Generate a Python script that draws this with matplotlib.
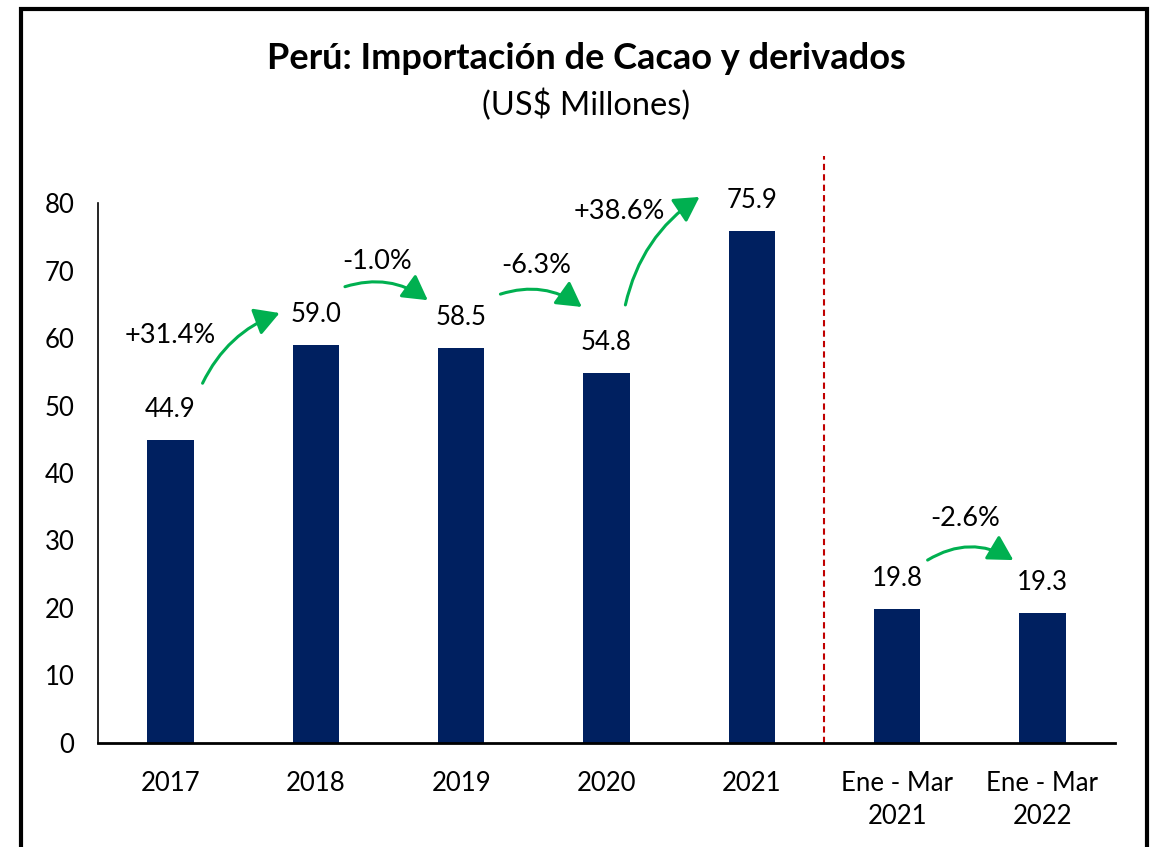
import matplotlib.pyplot as plt
from matplotlib.patches import FancyArrowPatch, Rectangle

plt.rcParams["font.family"] = ["Lato", "DejaVu Sans"]

categories = ["2017", "2018", "2019", "2020", "2021", "Ene - Mar\n2021", "Ene - Mar\n2022"]
values = [44.9, 59.0, 58.5, 54.8, 75.9, 19.8, 19.3]

# growth labels: (text, x, y) and arrows (x0, y0, x1, y1, rad)
growth_labels = ["+31.4%", "-1.0%", "-6.3%", "+38.6%", "-2.6%"]
growth_label_pos = [(0.0, 60.3), (1.42, 71.4), (2.52, 70.8), (3.09, 78.7), (5.47, 33.3)]
growth_arrows = [
    (0.22, 53.3, 0.75, 63.7, -0.2),
    (1.20, 67.6, 1.77, 65.6, -0.25),
    (2.27, 66.5, 2.83, 64.6, -0.25),
    (3.13, 64.9, 3.64, 80.9, -0.2),
    (5.21, 27.1, 5.80, 27.1, -0.3),
]

bar_color = "#002060"
green = "#00B050"

fig = plt.figure(figsize=(11.55, 8.47), dpi=100)
ax = fig.add_axes([0.0848, 0.1228, 0.8806, 0.6933])

x = range(len(categories))
ax.bar(x, values, width=0.32, color=bar_color)

for xi, v in zip(x, values):
    ax.annotate(f"{v:.1f}", (xi, v), xytext=(0, 22), textcoords="offset points",
                ha="center", va="center", fontsize=18.5)

for txt, (lx, ly) in zip(growth_labels, growth_label_pos):
    ax.text(lx, ly, txt, ha="center", va="center", fontsize=19.5)

for x0, y0, x1, y1, rad in growth_arrows:
    arr = FancyArrowPatch((x0, y0), (x1, y1),
                          connectionstyle=f"arc3,rad={rad}",
                          arrowstyle="-|>,head_length=15,head_width=8.5",
                          color=green, lw=2.2, shrinkA=0, shrinkB=0)
    ax.add_patch(arr)

ax.axvline(4.5, ymin=0, ymax=1, color="#C00000", ls=(0, (3, 2)), lw=1.5)

ax.set_xlim(-0.5, 6.5)
ax.set_ylim(0, 87)
ax.set_yticks(range(0, 81, 10))
ax.set_xticks(list(x))
ax.set_xticklabels(categories, linespacing=1.4)
ax.tick_params(axis="both", length=0, labelsize=18.5)
ax.tick_params(axis="y", pad=17)
ax.tick_params(axis="x", pad=20)

ax.spines["top"].set_visible(False)
ax.spines["right"].set_visible(False)
ax.spines["left"].set_bounds(0, 80)
ax.spines["left"].set_linewidth(1.2)
ax.spines["bottom"].set_linewidth(2)

fig.text(0.508, 0.9315, "Perú: Importación de Cacao y derivados",
         ha="center", va="center", fontsize=26, fontweight="bold")
fig.text(0.507, 0.8755, "(US$ Millones)", ha="center", va="center", fontsize=23.5)

frame = Rectangle((0.0182, -0.05), 0.9749, 1.0388, transform=fig.transFigure,
                  fill=False, edgecolor="black", lw=3, clip_on=False)
fig.patches.append(frame)

fig.savefig("out.png", dpi=100)
